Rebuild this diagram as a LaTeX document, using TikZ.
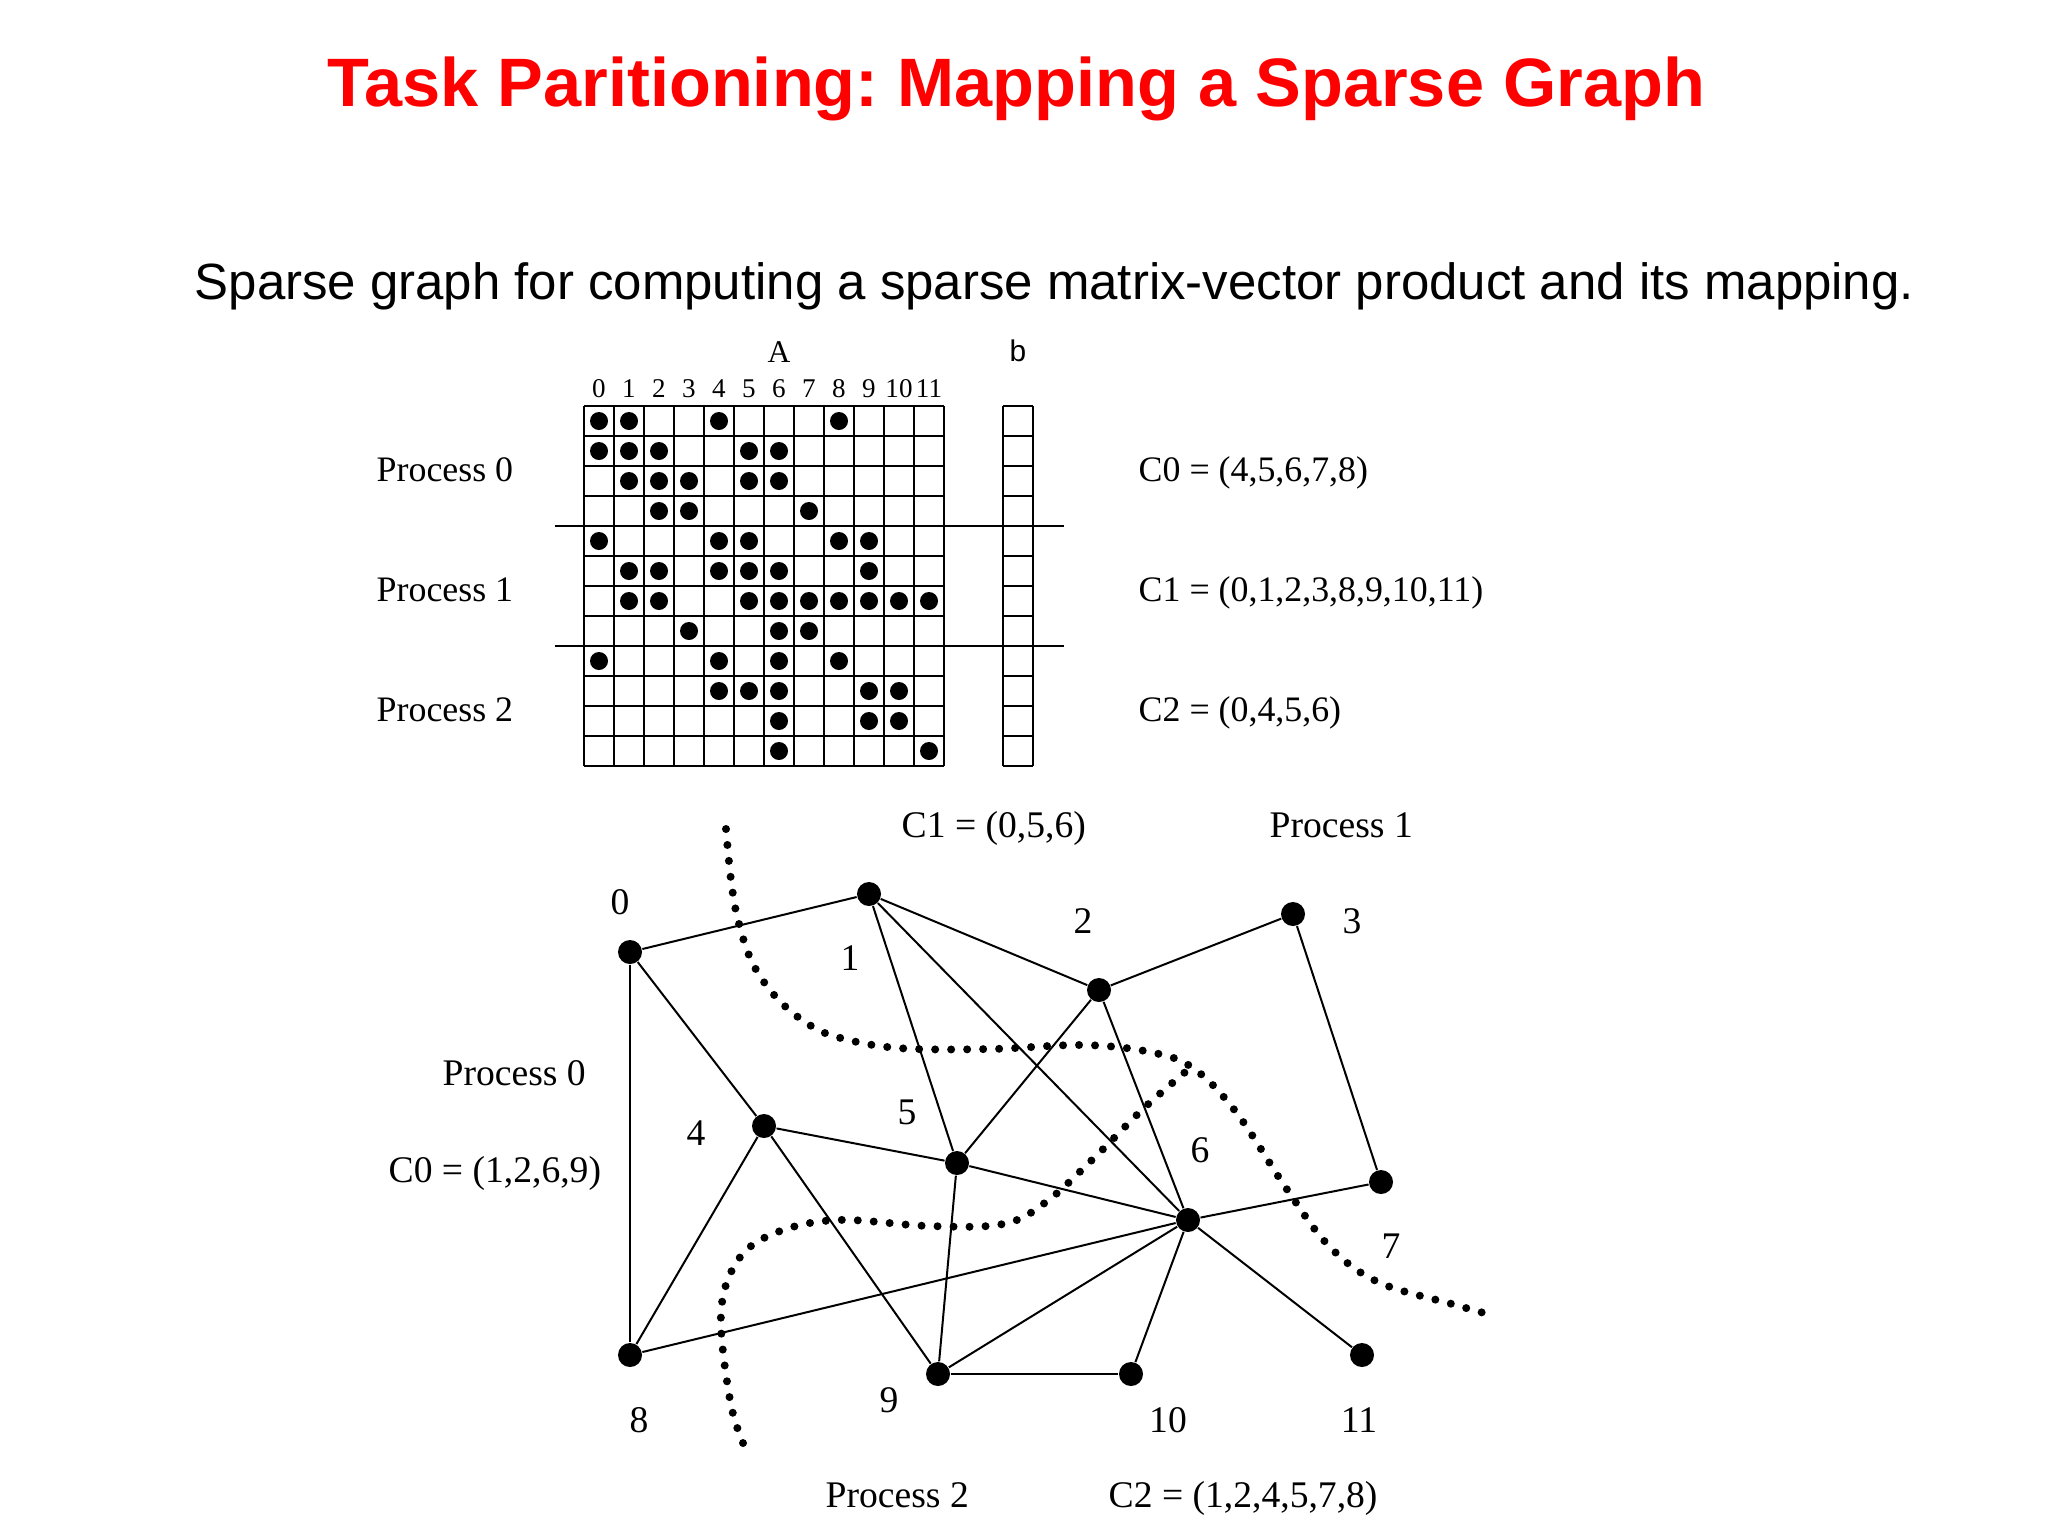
\documentclass[tikz,border=0pt]{standalone}
\usepackage{fontspec}
\setmainfont{Liberation Serif}
\setsansfont{Liberation Sans}
\usepackage{tikz}
\usetikzlibrary{positioning, calc}
\frenchspacing

\begin{document}
\begin{tikzpicture}[
  x=0.1mm, y=-0.1mm,
  title/.style={font=\sffamily\bfseries\fontsize{19.5pt}{23pt}\selectfont, text=red, anchor=base west, inner sep=0pt},
  subtitle/.style={font=\sffamily\fontsize{14.5pt}{17pt}\selectfont, anchor=base west, inner sep=0pt},
  mlabel/.style={font=\fontsize{10.2pt}{12pt}\selectfont, anchor=base west, inner sep=0pt},
  glabel/.style={font=\fontsize{10.7pt}{13pt}\selectfont, anchor=base west, inner sep=0pt},
  vlabel/.style={font=\fontsize{10.7pt}{13pt}\selectfont, inner sep=0pt},
  idx/.style={font=\fontsize{7.7pt}{9pt}\selectfont, anchor=base, inner sep=0pt},
  vtx/.style={circle, fill, inner sep=0pt, minimum size=2.4mm},
  nz/.style={circle, fill, inner sep=0pt, minimum size=1.8mm},
  gridline/.style={line width=0.17mm},
  sepline/.style={line width=0.27mm},
  edge/.style={line width=0.2mm},
  cut/.style={line width=0.8mm, dash pattern=on 0pt off 1.6mm, line cap=round}
]
\useasboundingbox (0,0) rectangle (2048,1536);

\node[title] (head) at (327,106) {Task Paritioning: Mapping a Sparse Graph};
\node[subtitle] (sub) at (194,299) {Sparse graph for computing a sparse matrix-vector product and its mapping.};

% matrix A and vector b
\node[idx, font=\fontsize{9pt}{11pt}\selectfont] (Alabel) at (779,362) {A};
\node[idx, font=\sffamily\fontsize{8.5pt}{10pt}\selectfont] (blabel) at (1018,361) {b};
\foreach \c in {0,...,11}
  \node[idx] (col\c) at ({599+30*\c},397) {\c};
\foreach \i in {0,...,12} {
  \draw[gridline] ({584+30*\i},406) -- ({584+30*\i},766);
  \draw[gridline] (584,{406+30*\i}) -- (944,{406+30*\i});
  \draw[gridline] (1003,{406+30*\i}) -- (1033,{406+30*\i});
}
\draw[gridline] (1003,406) -- (1003,766);
\draw[gridline] (1033,406) -- (1033,766);
\foreach \r/\cols in {0/{0,1,4,8}, 1/{0,1,2,5,6}, 2/{1,2,3,5,6}, 3/{2,3,7},
    4/{0,4,5,8,9}, 5/{1,2,4,5,6,9}, 6/{1,2,5,6,7,8,9,10,11}, 7/{3,6,7},
    8/{0,4,6,8}, 9/{4,5,6,9,10}, 10/{6,9,10}, 11/{6,11}}
  \foreach \c in \cols
    \node[nz] (nz-\r-\c) at ({599+30*\c},{421+30*\r}) {};
\draw[sepline] (555,526) -- (1064,526);
\draw[sepline] (555,646) -- (1064,646);

\node[mlabel] (mp0) at (376,481) {Process 0};
\node[mlabel] (mp1) at (376,601) {Process 1};
\node[mlabel] (mp2) at (376,721) {Process 2};
\node[mlabel] (mc0) at (1138,481) {C0 = (4,5,6,7,8)};
\node[mlabel] (mc1) at (1138,601) {C1 = (0,1,2,3,8,9,10,11)};
\node[mlabel] (mc2) at (1138,721) {C2 = (0,4,5,6)};

% graph
\node[vtx] (v0) at (630,952) {};
\node[vtx] (v1) at (869,894) {};
\node[vtx] (v2) at (1099,990) {};
\node[vtx] (v3) at (1293,914) {};
\node[vtx] (v4) at (764,1126) {};
\node[vtx] (v5) at (957,1163) {};
\node[vtx] (v6) at (1188,1220) {};
\node[vtx] (v7) at (1381,1182) {};
\node[vtx] (v8) at (630,1355) {};
\node[vtx] (v9) at (938,1374) {};
\node[vtx] (v10) at (1131,1374) {};
\node[vtx] (v11) at (1362,1355) {};
\foreach \p/\q in {0/1,0/4,0/8,1/2,1/5,1/6,2/3,2/5,2/6,3/7,4/5,4/8,4/9,
    5/6,5/9,6/7,6/8,6/9,6/10,6/11,9/10}
  \draw[edge] (v\p) -- (v\q);

\node[vlabel] (n0) at (620,902) {0};
\node[vlabel] (n1) at (850,958) {1};
\node[vlabel] (n2) at (1083,921) {2};
\node[vlabel] (n3) at (1352,921) {3};
\node[vlabel] (n4) at (696,1133) {4};
\node[vlabel] (n5) at (907,1112) {5};
\node[vlabel] (n6) at (1200,1150) {6};
\node[vlabel] (n7) at (1391,1246) {7};
\node[vlabel] (n8) at (639,1420) {8};
\node[vlabel] (n9) at (889,1400) {9};
\node[vlabel] (n10) at (1168,1420) {10};
\node[vlabel] (n11) at (1359,1420) {11};

\draw[cut] plot[smooth, tension=0.6] coordinates {(726,829) (731,880) (738,920)
  (752,962) (775,996) (805,1022) (837,1037) (898,1048) (990,1049) (1083,1045)
  (1150,1052) (1193,1068) (1236,1112) (1286,1188) (1329,1246) (1378,1282)
  (1452,1304) (1495,1316)};
\draw[cut] plot[smooth, tension=0.6] coordinates {(743,1443) (730,1400) (721,1313)
  (738,1260) (775,1233) (837,1220) (929,1226) (1003,1224) (1046,1202)
  (1095,1157) (1144,1108) (1190,1068)};

\node[glabel] (gc1) at (901,837) {C1 = (0,5,6)};
\node[glabel] (gp1) at (1269,837) {Process 1};
\node[glabel] (gp0) at (442,1085) {Process 0};
\node[glabel] (gc0) at (388,1182) {C0 = (1,2,6,9)};
\node[glabel] (gp2) at (825,1507) {Process 2};
\node[glabel] (gc2) at (1108,1507) {C2 = (1,2,4,5,7,8)};
\end{tikzpicture}
\end{document}
